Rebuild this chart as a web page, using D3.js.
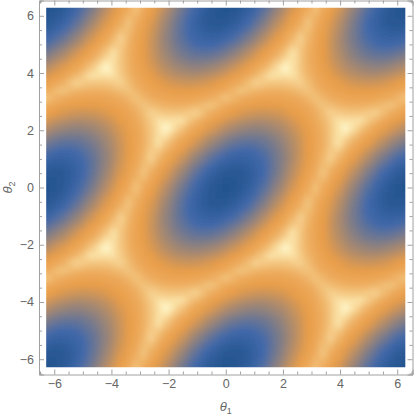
<!DOCTYPE html>
<html>
<head>
<meta charset="UTF-8">
<title>Density plot</title>
<script src="https://cdnjs.cloudflare.com/ajax/libs/d3/7.8.5/d3.min.js"></script>
<style>
	html, body { margin: 0; padding: 0; background: #fff; }
	svg { display: block; }
	text { font-family: "Liberation Sans", sans-serif; fill: #666; }
	.tick text { font-size: 12.5px; }
	.axis-label { font-size: 13px; font-style: italic; }
	.axis-label .sub { font-size: 9px; font-style: normal; }
</style>
</head>
<body>
<script>
// one period of the surface, 15 degree cells, rows go up in theta2, columns go right in theta1
var period = [
[0,.26,.52,.79,1.05,1.31,1.57,1.83,2.09,2.36,2.62,2.88,3.14,2.88,2.62,2.36,2.09,1.83,1.57,1.31,1.05,.79,.52,.26],
[.26,.26,.45,.69,.94,1.20,1.46,1.72,1.98,2.24,2.50,2.76,3.02,3.02,2.76,2.50,2.24,1.98,1.72,1.46,1.20,.94,.69,.45],
[.52,.45,.52,.69,.91,1.14,1.39,1.63,1.89,2.14,2.40,2.66,2.92,3.17,2.92,2.66,2.40,2.14,1.89,1.63,1.39,1.14,.91,.69],
[.79,.69,.69,.79,.94,1.14,1.36,1.59,1.83,2.08,2.33,2.58,2.83,3.09,3.09,2.83,2.58,2.33,2.08,1.83,1.59,1.36,1.14,.94],
[1.05,.94,.91,.94,1.05,1.20,1.39,1.59,1.81,2.04,2.28,2.52,2.77,3.02,3.27,3.02,2.77,2.52,2.28,2.04,1.81,1.59,1.39,1.20],
[1.31,1.20,1.14,1.14,1.20,1.31,1.46,1.63,1.83,2.04,2.27,2.50,2.73,2.97,3.22,3.22,2.97,2.73,2.50,2.27,2.04,1.83,1.63,1.46],
[1.57,1.46,1.39,1.36,1.39,1.46,1.57,1.72,1.89,2.08,2.28,2.50,2.72,2.95,3.18,3.42,3.18,2.95,2.72,2.50,2.28,2.08,1.89,1.72],
[1.83,1.72,1.63,1.59,1.59,1.63,1.72,1.83,1.98,2.14,2.33,2.52,2.73,2.95,3.17,3.40,3.40,3.17,2.95,2.73,2.52,2.33,2.14,1.98],
[2.09,1.98,1.89,1.83,1.81,1.83,1.89,1.98,2.09,2.24,2.40,2.58,2.77,2.97,3.18,3.40,3.63,3.40,3.18,2.97,2.77,2.58,2.40,2.24],
[2.36,2.24,2.14,2.08,2.04,2.04,2.08,2.14,2.24,2.36,2.50,2.66,2.83,3.02,3.22,3.42,3.40,3.40,3.42,3.22,3.02,2.83,2.66,2.50],
[2.62,2.50,2.40,2.33,2.28,2.27,2.28,2.33,2.40,2.50,2.62,2.76,2.92,3.09,3.27,3.22,3.18,3.17,3.18,3.22,3.27,3.09,2.92,2.76],
[2.88,2.76,2.66,2.58,2.52,2.50,2.50,2.52,2.58,2.66,2.76,2.88,3.02,3.17,3.09,3.02,2.97,2.95,2.95,2.97,3.02,3.09,3.17,3.02],
[3.14,3.02,2.92,2.83,2.77,2.73,2.72,2.73,2.77,2.83,2.92,3.02,3.14,3.02,2.92,2.83,2.77,2.73,2.72,2.73,2.77,2.83,2.92,3.02],
[2.88,3.02,3.17,3.09,3.02,2.97,2.95,2.95,2.97,3.02,3.09,3.17,3.02,2.88,2.76,2.66,2.58,2.52,2.50,2.50,2.52,2.58,2.66,2.76],
[2.62,2.76,2.92,3.09,3.27,3.22,3.18,3.17,3.18,3.22,3.27,3.09,2.92,2.76,2.62,2.50,2.40,2.33,2.28,2.27,2.28,2.33,2.40,2.50],
[2.36,2.50,2.66,2.83,3.02,3.22,3.42,3.40,3.40,3.42,3.22,3.02,2.83,2.66,2.50,2.36,2.24,2.14,2.08,2.04,2.04,2.08,2.14,2.24],
[2.09,2.24,2.40,2.58,2.77,2.97,3.18,3.40,3.63,3.40,3.18,2.97,2.77,2.58,2.40,2.24,2.09,1.98,1.89,1.83,1.81,1.83,1.89,1.98],
[1.83,1.98,2.14,2.33,2.52,2.73,2.95,3.17,3.40,3.40,3.17,2.95,2.73,2.52,2.33,2.14,1.98,1.83,1.72,1.63,1.59,1.59,1.63,1.72],
[1.57,1.72,1.89,2.08,2.28,2.50,2.72,2.95,3.18,3.42,3.18,2.95,2.72,2.50,2.28,2.08,1.89,1.72,1.57,1.46,1.39,1.36,1.39,1.46],
[1.31,1.46,1.63,1.83,2.04,2.27,2.50,2.73,2.97,3.22,3.22,2.97,2.73,2.50,2.27,2.04,1.83,1.63,1.46,1.31,1.20,1.14,1.14,1.20],
[1.05,1.20,1.39,1.59,1.81,2.04,2.28,2.52,2.77,3.02,3.27,3.02,2.77,2.52,2.28,2.04,1.81,1.59,1.39,1.20,1.05,.94,.91,.94],
[.79,.94,1.14,1.36,1.59,1.83,2.08,2.33,2.58,2.83,3.09,3.09,2.83,2.58,2.33,2.08,1.83,1.59,1.36,1.14,.94,.79,.69,.69],
[.52,.69,.91,1.14,1.39,1.63,1.89,2.14,2.40,2.66,2.92,3.17,2.92,2.66,2.40,2.14,1.89,1.63,1.39,1.14,.91,.69,.52,.45],
[.26,.45,.69,.94,1.20,1.46,1.72,1.98,2.24,2.50,2.76,3.02,3.02,2.76,2.50,2.24,1.98,1.72,1.46,1.20,.94,.69,.45,.26]
];
var majorTicks = [-6, -4, -2, 0, 2, 4, 6];
var minorTicks = [-6.5, -5.5, -5, -4.5, -3.5, -3, -2.5, -1.5, -1, -0.5, 0.5, 1, 1.5, 2.5, 3, 3.5, 4.5, 5, 5.5, 6.5];
var colorStops = [0, 0.6, 1.15, 2.5, 2.9, 3.2, 3.42, 3.63];
var colorValues = ["#24548e", "#2c5a96", "#4069ab", "#e89d49", "#edaa5b", "#f4c883", "#fbe3a8", "#fff8cc"];

var width = 415;
var height = 417;
var range = 2 * Math.PI;
var cell = range / 24;

var x = d3.scaleLinear().domain([-range * 1.04, range * 1.04]).range([39, 412.5]);
var y = d3.scaleLinear().domain([-range * 1.04, range * 1.04]).range([374.5, 0.5]);
var color = d3.scaleLinear().domain(colorStops).range(colorValues);

var svg = d3.select("body").append("svg").attr("width", width).attr("height", height);
var defs = svg.append("defs");

defs.append("clipPath").attr("id", "plotClip")
	.append("rect")
	.attr("x", x(-range))
	.attr("y", y(range))
	.attr("width", x(range) - x(-range))
	.attr("height", y(-range) - y(range));

defs.append("filter").attr("id", "smooth")
	.attr("filterUnits", "userSpaceOnUse")
	.attr("x", 0).attr("y", 0).attr("width", width).attr("height", height)
	.append("feGaussianBlur")
	.attr("stdDeviation", 3.1);

// cells run a bit past the edge so the blur does not fade at the clip
var cells = [];
for (var row = -27; row <= 27; row++)
{
	for (var col = -27; col <= 27; col++)
	{
		cells.push({
			t1: col * cell,
			t2: row * cell,
			value: period[(row + 48) % 24][(col + 48) % 24]
		});
	}
}

svg.append("g")
	.attr("clip-path", "url(#plotClip)")
	.append("g")
	.attr("filter", "url(#smooth)")
	.selectAll("rect")
	.data(cells)
	.enter()
	.append("rect")
	.attr("x", function(d) { return x(d.t1 - cell / 2); })
	.attr("y", function(d) { return y(d.t2 + cell / 2); })
	.attr("width", x(cell) - x(0) + 0.5)
	.attr("height", y(0) - y(cell) + 0.5)
	.attr("shape-rendering", "crispEdges")
	.style("fill", function(d) { return color(d.value); });

function frameSide(axis, transform, showLabels, minor)
{
	var g = svg.append("g").attr("transform", transform);
	axis.tickValues(minor ? minorTicks : majorTicks)
		.tickSize(minor ? -3 : -5)
		.tickPadding(5)
		.tickFormat(showLabels ? function(d) { return d3.format("")(d); } : "");
	g.call(axis);
	g.selectAll("line").attr("stroke", "#a0a0a0");
	g.select(".domain").attr("stroke", minor ? "none" : "#a0a0a0");
	return g;
}

[false, true].forEach(function(minor) {
	frameSide(d3.axisBottom(x), "translate(0," + y.range()[0] + ")", !minor, minor);
	frameSide(d3.axisTop(x), "translate(0," + y.range()[1] + ")", false, minor);
	frameSide(d3.axisLeft(y), "translate(" + x.range()[0] + ",0)", !minor, minor);
	frameSide(d3.axisRight(y), "translate(" + x.range()[1] + ",0)", false, minor);
});

var xLabel = svg.append("text")
	.classed("axis-label", true)
	.attr("x", x(0))
	.attr("y", 411)
	.attr("text-anchor", "middle");
xLabel.append("tspan").text("θ");
xLabel.append("tspan").classed("sub", true).attr("dy", 3).text("1");

var yLabel = svg.append("text")
	.classed("axis-label", true)
	.attr("transform", "translate(12," + y(0) + ") rotate(-90)")
	.attr("text-anchor", "middle");
yLabel.append("tspan").text("θ");
yLabel.append("tspan").classed("sub", true).attr("dy", 3).text("2");
</script>
</body>
</html>
